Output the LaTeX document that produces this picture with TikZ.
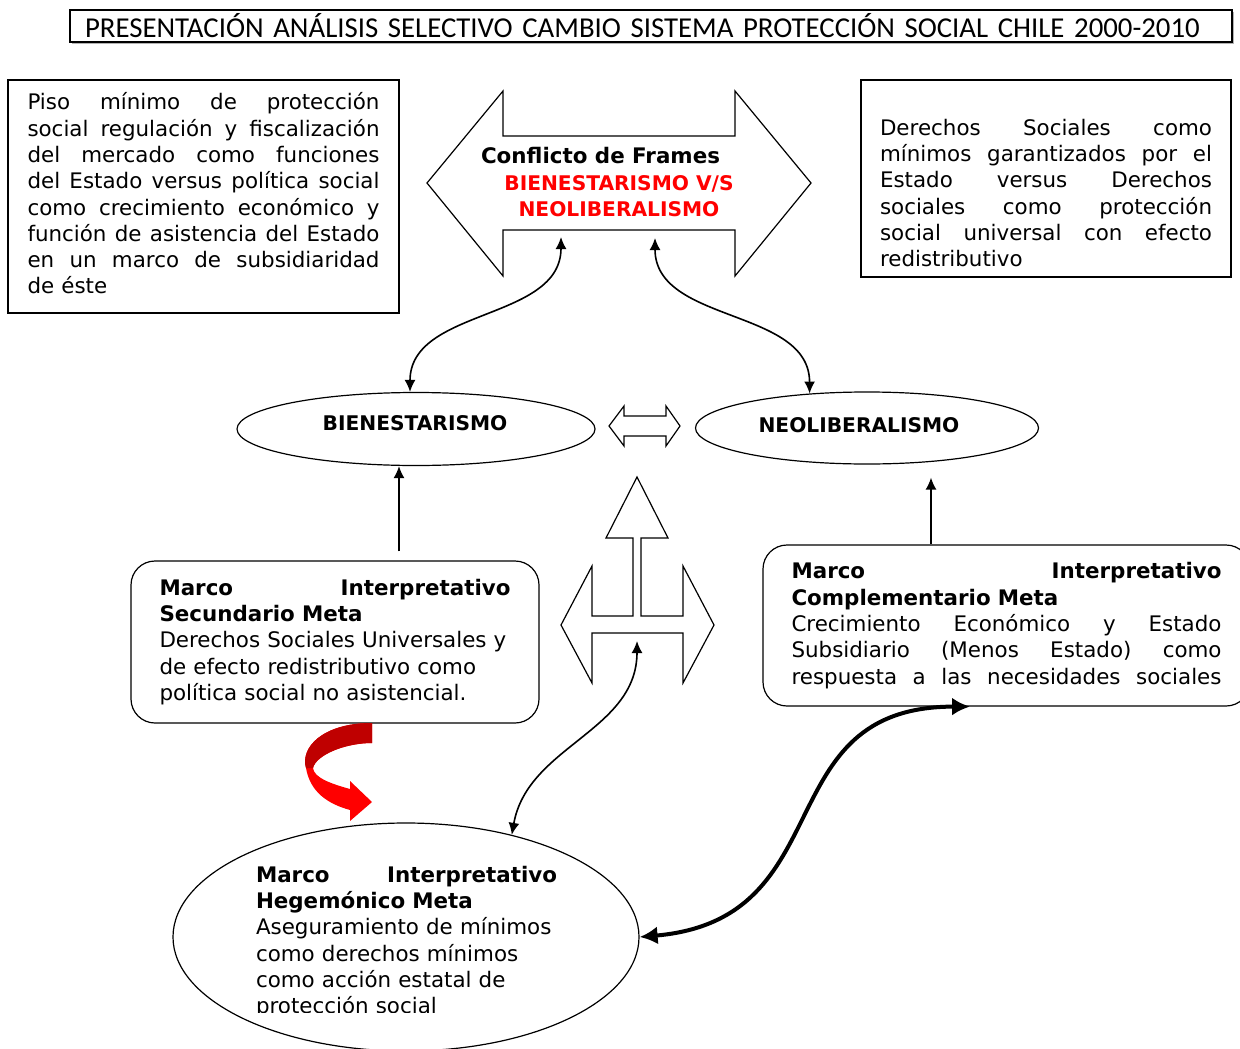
\documentclass[tikz,border=0pt]{standalone}
\usepackage{fontspec}
\setmainfont{DejaVu Sans}
\newfontfamily\titlefont{Carlito}
\usetikzlibrary{arrows.meta,
                shadows,
                shapes.geometric
            }
\newcommand{\bodysize}{\fontsize{10.7}{13.15}\selectfont}
\newcommand{\capsize}{\fontsize{10.1}{13.15}\selectfont\bfseries}

\tikzset{
  txtbox/.style={draw, line width=0.6pt, inner sep=0pt},
  roundbox/.style={txtbox, rounded corners=12pt},
  oval/.style={draw, ellipse, line width=0.6pt, inner sep=0pt},
  bodytext/.style={font=\bodysize, align=left, inner sep=0pt},
  hollow/.style={draw, line width=0.6pt, fill=white},
  link/.style={line width=0.8pt, {Latex[length=6pt,width=5.5pt]}-{Latex[length=6pt,width=5.5pt]}},
  uplink/.style={line width=0.8pt, -{Latex[length=6pt,width=5.5pt]}},
  biglink/.style={line width=2pt, {Latex[length=9pt,width=9pt]}-{Latex[length=9pt,width=9pt]}}
}

\begin{document}
\begin{tikzpicture}[x=0.5pt, y=-0.5pt]
  \useasboundingbox (0,0) rectangle (1240,1048);

  % title
  \node[draw, line width=0.6pt, fill=white,
        drop shadow={shadow xshift=1pt, shadow yshift=-1pt, fill=gray!60, opacity=1},
        minimum width=581pt, minimum height=16pt, text width=566pt, inner xsep=7.5pt, inner ysep=0pt,
        align=left, font=\titlefont\fontsize{14.4}{16}\selectfont] (title) at (651,26)
        {PRESENTACIÓN ANÁLISIS SELECTIVO CAMBIO SISTEMA PROTECCIÓN SOCIAL CHILE 2000-2010};

  % side boxes
  \node[txtbox, minimum width=195.5pt, minimum height=116.5pt] (pbox) at (203.5,196.5) {};
  \node[bodytext, text width=176pt] (ptext) at (203.5,193.5)
    {Piso\hfill mínimo\hfill de\hfill protección\\
     social\hfill regulación\hfill y\hfill fiscalización\\
     del\hfill mercado\hfill como\hfill funciones\\
     del\hfill Estado\hfill versus\hfill política\hfill social\\
     como\hfill crecimiento\hfill económico\hfill y\\
     función\hfill de\hfill asistencia\hfill del\hfill Estado\\
     en\hfill un\hfill marco\hfill de\hfill subsidiaridad\\
     de éste};
  \node[txtbox, minimum width=185pt, minimum height=98.5pt] (dbox) at (1046,178.5) {};
  \node[bodytext, text width=166pt] (dtext) at (1046,193)
    {Derechos\hfill Sociales\hfill como\\
     mínimos\hfill garantizados\hfill por\hfill el\\
     Estado\hfill versus\hfill Derechos\\
     sociales\hfill como\hfill protección\\
     social\hfill universal\hfill con\hfill efecto\\
     redistributivo};

  % conflict arrow
  \draw[hollow] (427,183) -- (503,91) -- (503,136) -- (735,136) -- (735,91) -- (811,183)
    -- (735,276) -- (735,230) -- (503,230) -- (503,276) -- cycle;
  \node[font=\bodysize\bfseries] (frames) at (600.5,156) {Conflicto de Frames};
  \node[font=\capsize, text=red, align=center] (versus) at (619,196)
    {BIENESTARISMO V/S\\NEOLIBERALISMO};
  \coordinate (fl) at (561,237);
  \coordinate (fr) at (655,238);

  % frames
  \node[oval, minimum width=179pt, minimum height=36.5pt] (bien) at (416,429) {};
  \node[font=\capsize] (bientext) at (415,423) {BIENESTARISMO};
  \node[oval, minimum width=171.5pt, minimum height=36pt] (neo) at (867,428) {};
  \node[font=\capsize] (neotext) at (859,425) {NEOLIBERALISMO};

  \draw[hollow] (609,426) -- (624,406) -- (624,416) -- (666,416) -- (666,406) -- (680,426)
    -- (666,446) -- (666,436) -- (624,436) -- (624,446) -- cycle;

  \draw[hollow] (637,477) -- (668,538) -- (641,538) -- (641,616) -- (683,616) -- (683,566)
    -- (714,625) -- (683,683) -- (683,633) -- (592,633) -- (592,683) -- (561,625)
    -- (592,566) -- (592,616) -- (633,616) -- (633,538) -- (606,538) -- cycle;
  \coordinate (ctip) at (637,641);

  % interpretative frames
  \node[roundbox, bodytext, minimum width=204pt, minimum height=81pt, text width=175.5pt] (sec) at (335,642)
    {\textbf{Marco\hfill Interpretativo}\\
     \textbf{Secundario Meta}\\
     Derechos Sociales Universales y\\
     de efecto redistributivo como\\
     política social no asistencial.};
  \node[roundbox, bodytext, minimum width=243.5pt, minimum height=80.5pt, text width=215pt] (comp) at (1006.5,625.5)
    {\textbf{Marco\hfill Interpretativo}\\
     \textbf{Complementario Meta}\\
     Crecimiento\hfill Económico\hfill y\hfill Estado\\
     Subsidiario\hfill (Menos\hfill Estado)\hfill como\\
     respuesta\hfill a\hfill las\hfill necesidades\hfill sociales};

  \node[oval, minimum width=233pt, minimum height=114pt] (heg) at (406,937) {};
  \begin{scope}
    \clip (150,820) rectangle (660,1012);
    \node[bodytext, text width=150.5pt] (hegtext) at (406.5,942)
      {\textbf{Marco\hfill Interpretativo}\\
       \textbf{Hegemónico Meta}\\
       Aseguramiento de mínimos\\
       como derechos mínimos\\
       como acción estatal de\\
       protección social};
  \end{scope}

  % red turn
  \fill[red] (372,723) .. controls (322,723) and (300,748) .. (306,768)
    .. controls (310,792) and (328,804) .. (350,810) -- (350,821) -- (372,802) -- (350,781)
    -- (350,789) .. controls (332,784) and (314,778) .. (313,768)
    .. controls (316,755) and (345,743) .. (372,743) -- cycle;
  \fill[red!75!black] (372,723) .. controls (322,723) and (300,748) .. (306,768)
    -- (313,768) .. controls (316,755) and (345,743) .. (372,743) -- cycle;

  % connectors
  \draw[link] ([xshift=-3pt]bien.north) to[out=90, in=-90] (fl);
  \draw[link] (fr) to[out=-90, in=90] (neo.149);
  \draw[uplink] ([xshift=32pt,yshift=4.5pt]sec.north) -- ([xshift=-8.5pt]bien.south);
  \draw[uplink] ([xshift=-37.75pt]comp.north) -- ([xshift=32pt,yshift=-6.5pt]neo.south);
  \draw[link] (heg.44) to[out=80, in=-90] (ctip);
  \draw[biglink] (heg.east) to[out=5, in=180, looseness=1.3] ([xshift=-18.25pt]comp.south);
\end{tikzpicture}
\end{document}
